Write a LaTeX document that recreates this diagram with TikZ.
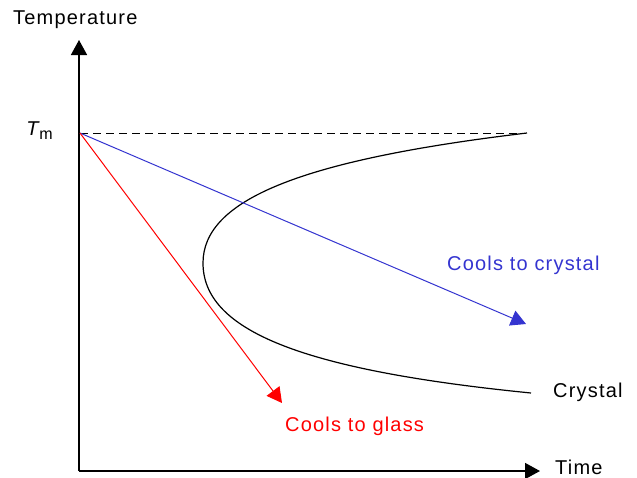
\documentclass[tikz,border=0pt]{standalone}
\usepackage{fontspec}
\setmainfont{Liberation Sans}[LetterSpace=6]
\usetikzlibrary{arrows.meta}
\definecolor{cblue}{HTML}{3434D0}
\definecolor{cred}{HTML}{FF0000}
\begin{document}
\begin{tikzpicture}[x=1pt,y=-1pt,
  lbl/.style={font=\fontsize{20}{24}\selectfont, inner sep=0pt},
  axis/.style={line width=1.6pt,-{Triangle[length=15pt,width=16pt]}},
  cool/.style={line width=1pt,-{Triangle[length=15pt,width=16pt]}},
]
\useasboundingbox (0,0) rectangle (637,477);
\coordinate (O) at (79,471);
\coordinate (ytop) at (79,40);
\coordinate (xend) at (540,471);
\coordinate (tm) at (80,133);
\coordinate (dashend) at (526,133);
\coordinate (btip) at (526,324);
\coordinate (rtip) at (282,403);
\coordinate (cup) at (527,133);
\coordinate (nose) at (203,263);
\coordinate (clow) at (531,393);

\draw[axis] (O) -- (ytop);
\draw[axis] (O) -- (xend);
\draw[line width=1pt, dash pattern=on 8pt off 5pt] (tm) -- (dashend);
\draw[line width=1.2pt] (cup) .. controls (300,160) and (203,200) .. (nose)
   .. controls (203,330) and (300,370) .. (clow);
\draw[cool, cblue] (tm) -- (btip);
\draw[cool, cred] (tm) -- (rtip);

\node[lbl, anchor=west] (ttl) at (13,20) {Temperature};
\node[lbl, anchor=east] (tmlbl) at (53,131) {\itshape T\kern1pt\raisebox{-4pt}{\upshape\fontsize{16}{18}\selectfont m}};
\node[lbl, anchor=west, text=cblue] (lcrys) at (447,265) {Cools to crystal};
\node[lbl, anchor=west, text=cred] (lglass) at (285,426) {Cools to glass};
\node[lbl, anchor=west] (lcr) at (553,392) {Crystal};
\node[lbl, anchor=west] (ltime) at (555,467) {Time};
\end{tikzpicture}
\end{document}
